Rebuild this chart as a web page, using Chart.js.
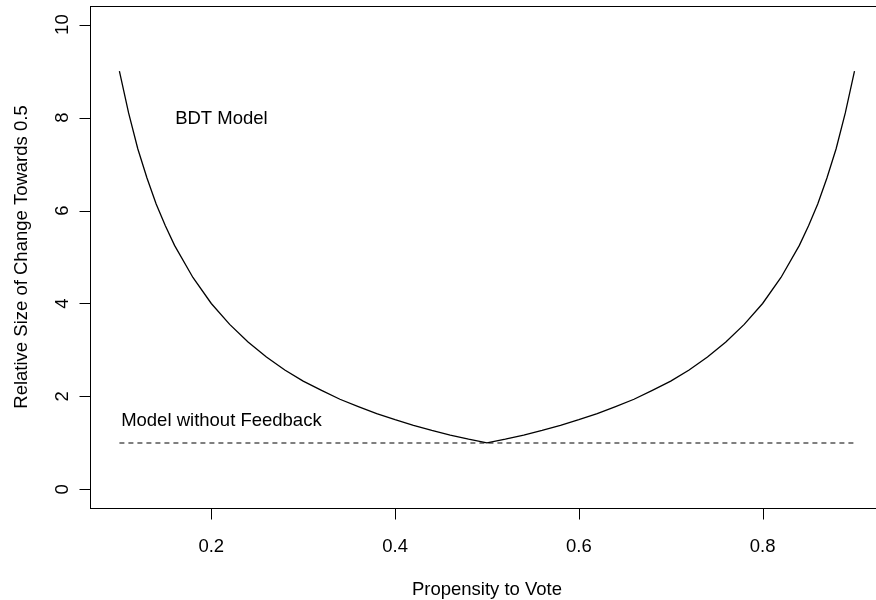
<!DOCTYPE html>
<html>
<head>
<meta charset="utf-8">
<script src="https://cdn.jsdelivr.net/npm/chart.js@4/dist/chart.umd.min.js"></script>
<style>
  html, body { margin: 0; padding: 0; overflow: hidden; background: #fff; }
  /* the R plot box runs a little past the right edge of the picture */
  #wrap { width: 886px; height: 600px; }
</style>
</head>
<body>
<div id="wrap"><canvas id="chart" width="886" height="600"></canvas></div>
<script>
// Propensity to vote (x) and relative size of change towards 0.5 (y)
const propensity = [0.10, 0.11, 0.12, 0.13, 0.14, 0.15, 0.16, 0.18, 0.20, 0.22, 0.24, 0.26, 0.28,
                    0.30, 0.32, 0.34, 0.36, 0.38, 0.40, 0.42, 0.44, 0.46, 0.48,
                    0.50, 0.52, 0.54, 0.56, 0.58, 0.60, 0.62, 0.64, 0.66, 0.68,
                    0.70, 0.72, 0.74, 0.76, 0.78, 0.80, 0.82, 0.84, 0.85, 0.86, 0.87, 0.88, 0.89, 0.90];
const bdtChange = [9.0, 8.1, 7.33, 6.7, 6.14, 5.67, 5.25, 4.56, 4.0, 3.55, 3.17, 2.85, 2.57,
                   2.33, 2.13, 1.94, 1.78, 1.63, 1.5, 1.38, 1.27, 1.17, 1.08,
                   1.0, 1.08, 1.17, 1.27, 1.38, 1.5, 1.63, 1.78, 1.94, 2.13,
                   2.33, 2.57, 2.85, 3.17, 3.55, 4.0, 4.56, 5.25, 5.67, 6.14, 6.7, 7.33, 8.1, 9.0];

// flat reference line
const noFeedbackX = [0.1, 0.9];
const noFeedbackY = [1, 1];

const xTicks = [0.2, 0.4, 0.6, 0.8];
const yTicks = [0, 2, 4, 6, 8, 10];

const labels = [
  { text: 'BDT Model', x: 0.211, y: 8 },
  { text: 'Model without Feedback', x: 0.211, y: 1.5 }
];

const FONT = '18.5px "Liberation Sans", Arial, Helvetica, sans-serif';

// draws the R-style box, axes, tick labels and text annotations
const baseAxes = {
  id: 'baseAxes',
  afterDatasetsDraw(chart) {
    const { ctx, chartArea: a, scales: { x, y } } = chart;
    ctx.save();
    ctx.strokeStyle = '#000';
    ctx.fillStyle = '#000';
    ctx.lineWidth = 1;

    // plot box
    ctx.strokeRect(Math.round(a.left) + 0.5, Math.round(a.top) + 0.5,
                   Math.round(a.right - a.left), Math.round(a.bottom - a.top));

    ctx.font = FONT;

    // x axis
    ctx.textAlign = 'center';
    ctx.textBaseline = 'alphabetic';
    const xb = Math.round(a.bottom) + 0.5;
    ctx.beginPath();
    ctx.moveTo(x.getPixelForValue(xTicks[0]), xb);
    ctx.lineTo(x.getPixelForValue(xTicks[xTicks.length - 1]), xb);
    xTicks.forEach(t => {
      const px = Math.round(x.getPixelForValue(t)) + 0.5;
      ctx.moveTo(px, xb);
      ctx.lineTo(px, xb + 11);
    });
    ctx.stroke();
    xTicks.forEach(t => {
      ctx.fillText(t.toFixed(1), x.getPixelForValue(t), a.bottom + 44);
    });

    // y axis
    const yl = Math.round(a.left) + 0.5;
    ctx.beginPath();
    ctx.moveTo(yl, y.getPixelForValue(yTicks[0]));
    ctx.lineTo(yl, y.getPixelForValue(yTicks[yTicks.length - 1]));
    yTicks.forEach(t => {
      const py = Math.round(y.getPixelForValue(t)) + 0.5;
      ctx.moveTo(yl, py);
      ctx.lineTo(yl - 11, py);
    });
    ctx.stroke();
    yTicks.forEach(t => {
      ctx.save();
      ctx.translate(a.left - 22, y.getPixelForValue(t));
      ctx.rotate(-Math.PI / 2);
      ctx.fillText(String(t), 0, 0);
      ctx.restore();
    });

    // axis titles
    ctx.fillText('Propensity to Vote', (a.left + a.right) / 2, a.bottom + 87);
    ctx.save();
    ctx.translate(27, (a.top + a.bottom) / 2);
    ctx.rotate(-Math.PI / 2);
    ctx.fillText('Relative Size of Change Towards 0.5', 0, 0);
    ctx.restore();

    // annotations
    ctx.textBaseline = 'middle';
    labels.forEach(l => {
      ctx.fillText(l.text, x.getPixelForValue(l.x), y.getPixelForValue(l.y) + 1.5);
    });

    ctx.restore();
  }
};

const ctx = document.getElementById('chart').getContext('2d');
new Chart(ctx, {
  type: 'scatter',
  data: {
    datasets: [
      {
        label: 'BDT Model',
        data: propensity.map((p, i) => ({ x: p, y: bdtChange[i] })),
        showLine: true,
        borderColor: '#000',
        borderWidth: 1.3,
        pointRadius: 0,
        tension: 0
      },
      {
        label: 'Model without Feedback',
        data: noFeedbackX.map((p, i) => ({ x: p, y: noFeedbackY[i] })),
        showLine: true,
        borderColor: '#000',
        borderWidth: 1.1,
        borderDash: [5, 4],
        pointRadius: 0
      }
    ]
  },
  options: {
    responsive: false,
    animation: false,
    layout: { padding: { left: 90, top: 6, right: 2.1, bottom: 92 } },
    plugins: {
      legend: { display: false },
      tooltip: { enabled: false }
    },
    scales: {
      x: { type: 'linear', min: 0.068, max: 0.932, display: false },
      y: { type: 'linear', min: -0.4, max: 10.4, display: false }
    }
  },
  plugins: [baseAxes]
});
</script>
</body>
</html>
